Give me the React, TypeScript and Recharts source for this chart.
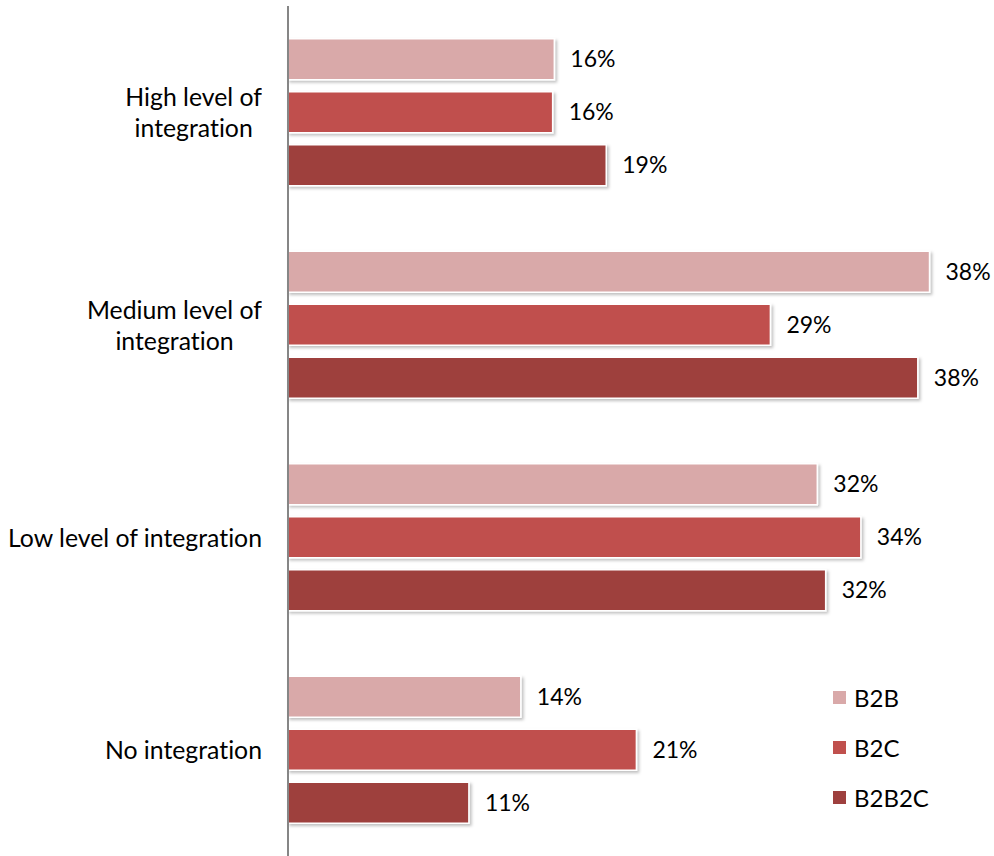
import React from "react";
import { BarChart, Bar, XAxis, YAxis, LabelList } from "recharts";

const categories = [
  "High level of integration",
  "Medium level of integration",
  "Low level of integration",
  "No integration",
];
const tickLines = [
  ["High level of", "integration"],
  ["Medium level of", "integration"],
  ["Low level of integration"],
  ["No integration"],
];
const seriesNames = ["B2B", "B2C", "B2B2C"];
const b2b = [15.9, 38.3, 31.6, 13.9];
const b2c = [15.8, 28.8, 34.2, 20.8];
const b2b2c = [19.0, 37.6, 32.1, 10.8];
const colors = ["#D9A9A9", "#C0504D", "#9E403E"];

const data = categories.map((c, i) => ({
  name: c,
  B2B: b2b[i],
  B2C: b2c[i],
  B2B2C: b2b2c[i],
}));

const FONT = "Lato, sans-serif";
const FS = 24;

const CategoryTick = (props: any) => {
  const { y, payload, index } = props;
  const idx = categories.indexOf(payload.value);
  const lines = tickLines[idx >= 0 ? idx : index] || [payload.value];
  const h = 120;
  return (
    <foreignObject x={0} y={y - h / 2} width={262} height={h}>
      <div
        style={{
          width: "100%",
          height: "100%",
          display: "flex",
          alignItems: "center",
          justifyContent: "flex-end",
          fontFamily: FONT,
          fontSize: 24.8,
          fontVariantLigatures: "none",
          color: "#000",
        }}
      >
        <div style={{ textAlign: "center", lineHeight: "31px", whiteSpace: "nowrap" }}>
          {lines.map((l: string, k: number) => (
            <div key={k}>{l}</div>
          ))}
        </div>
      </div>
    </foreignObject>
  );
};

const fmt = (v: any) => `${Math.round(Number(v))}%`;

export default function App() {
  return (
    <div
      style={{
        position: "fixed",
        left: 0,
        top: 0,
        width: 994,
        height: 856,
        background: "#fff",
        overflow: "hidden",
      }}
    >
      <BarChart
        width={994}
        height={856}
        data={data}
        layout="vertical"
        margin={{ top: 6, right: 36, bottom: 0, left: 0 }}
        barCategoryGap="15.4%"
        barGap={12}
      >
        <defs>
          <filter id="barShadow" x="-5%" y="-20%" width="115%" height="150%">
            <feDropShadow dx="2" dy="2" stdDeviation="1.5" floodColor="#000" floodOpacity="0.25" />
          </filter>
        </defs>
        <XAxis type="number" domain={[0, 40]} hide />
        <YAxis
          type="category"
          dataKey="name"
          width={288}
          axisLine={{ stroke: "#868686", strokeWidth: 2 }}
          tickLine={false}
          tick={<CategoryTick />}
          interval={0}
        />
        {seriesNames.map((s, i) => (
          <Bar
            key={s}
            dataKey={s}
            fill={colors[i]}
            stroke="#fff"
            strokeWidth={1.5}
            filter="url(#barShadow)"
            isAnimationActive={false}
          >
            <LabelList
              dataKey={s}
              position="right"
              offset={16}
              formatter={fmt}
              style={{ fontFamily: FONT, fontSize: 23, fill: "#000" }}
            />
          </Bar>
        ))}
      </BarChart>
      <div
        style={{
          position: "absolute",
          left: 833,
          top: 672,
          fontFamily: FONT,
          fontSize: FS,
          color: "#000",
        }}
      >
        {seriesNames.map((s, i) => (
          <div key={s} style={{ display: "flex", alignItems: "center", height: 50 }}>
            <div
              style={{
                width: 13,
                height: 13,
                background: colors[i],
                marginRight: 8,
              }}
            />
            <span>{s}</span>
          </div>
        ))}
      </div>
    </div>
  );
}
